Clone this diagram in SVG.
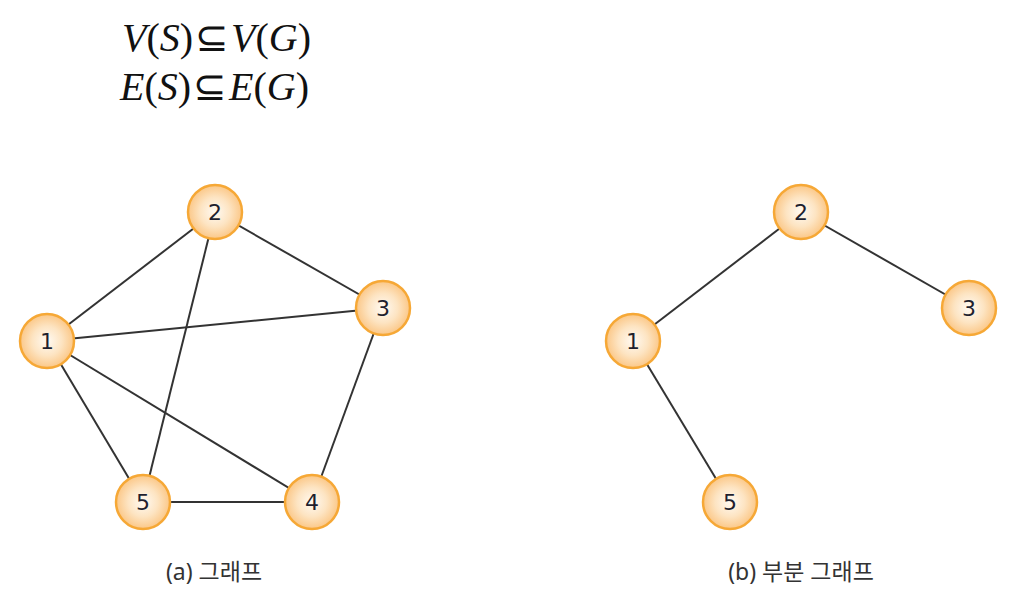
<svg xmlns="http://www.w3.org/2000/svg" width="1030" height="595" viewBox="0 0 1030 595">
<defs>
<radialGradient id="ng" cx="50%" cy="50%" r="50%">
<stop offset="0%" stop-color="#fffaf3"/>
<stop offset="55%" stop-color="#fde4c2"/>
<stop offset="100%" stop-color="#fbc787"/>
</radialGradient>
</defs>
<style>
.node circle{fill:url(#ng);stroke:#f6a836;stroke-width:2.5}
.node text{font-family:"DejaVu Sans","Noto Sans",sans-serif;font-size:22px;fill:#1f1f2e;text-anchor:middle;dominant-baseline:central}
.edges line{stroke:#333;stroke-width:2}
.cap{font-family:"Noto Sans","Noto Sans CJK KR",sans-serif;font-size:23px;fill:#333;text-anchor:middle}
.math{font-family:"Liberation Serif",serif;font-size:40px;fill:#111}
.it{font-style:italic}
</style>
<rect width="1030" height="595" fill="#fff"/>
<g id="formula">
<text class="math" x="122" y="51"><tspan class="it">V</tspan>(<tspan class="it">S</tspan>)<tspan dx="2">⊆</tspan><tspan class="it" dx="2">V</tspan>(<tspan class="it">G</tspan>)</text>
<text class="math" x="120" y="100"><tspan class="it">E</tspan>(<tspan class="it">S</tspan>)<tspan dx="2">⊆</tspan><tspan class="it" dx="2">E</tspan>(<tspan class="it">G</tspan>)</text>
</g>
<g class="edges" id="edges-a">
<line x1="47" y1="341" x2="215" y2="212"/>
<line x1="47" y1="341" x2="383" y2="308"/>
<line x1="47" y1="341" x2="312" y2="502"/>
<line x1="47" y1="341" x2="143" y2="502"/>
<line x1="215" y1="212" x2="383" y2="308"/>
<line x1="215" y1="212" x2="143" y2="502"/>
<line x1="383" y1="308" x2="312" y2="502"/>
<line x1="143" y1="502" x2="312" y2="502"/>
</g>
<g class="edges" id="edges-b">
<line x1="633" y1="341" x2="801" y2="212"/>
<line x1="801" y1="212" x2="969" y2="308"/>
<line x1="633" y1="341" x2="730" y2="502"/>
</g>
<g id="a1" class="node"><circle cx="47" cy="341" r="27"/><text x="47" y="341">1</text></g>
<g id="a2" class="node"><circle cx="215" cy="212" r="27"/><text x="215" y="212">2</text></g>
<g id="a3" class="node"><circle cx="383" cy="308" r="27"/><text x="383" y="308">3</text></g>
<g id="a4" class="node"><circle cx="312" cy="502" r="27"/><text x="312" y="502">4</text></g>
<g id="a5" class="node"><circle cx="143" cy="502" r="27"/><text x="143" y="502">5</text></g>
<g id="b1" class="node"><circle cx="633" cy="341" r="27"/><text x="633" y="341">1</text></g>
<g id="b2" class="node"><circle cx="801" cy="212" r="27"/><text x="801" y="212">2</text></g>
<g id="b3" class="node"><circle cx="969" cy="308" r="27"/><text x="969" y="308">3</text></g>
<g id="b5" class="node"><circle cx="730" cy="502" r="27"/><text x="730" y="502">5</text></g>
<text class="cap" x="214" y="580">(a) 그래프</text>
<text class="cap" x="801" y="580">(b) 부분 그래프</text>
</svg>
